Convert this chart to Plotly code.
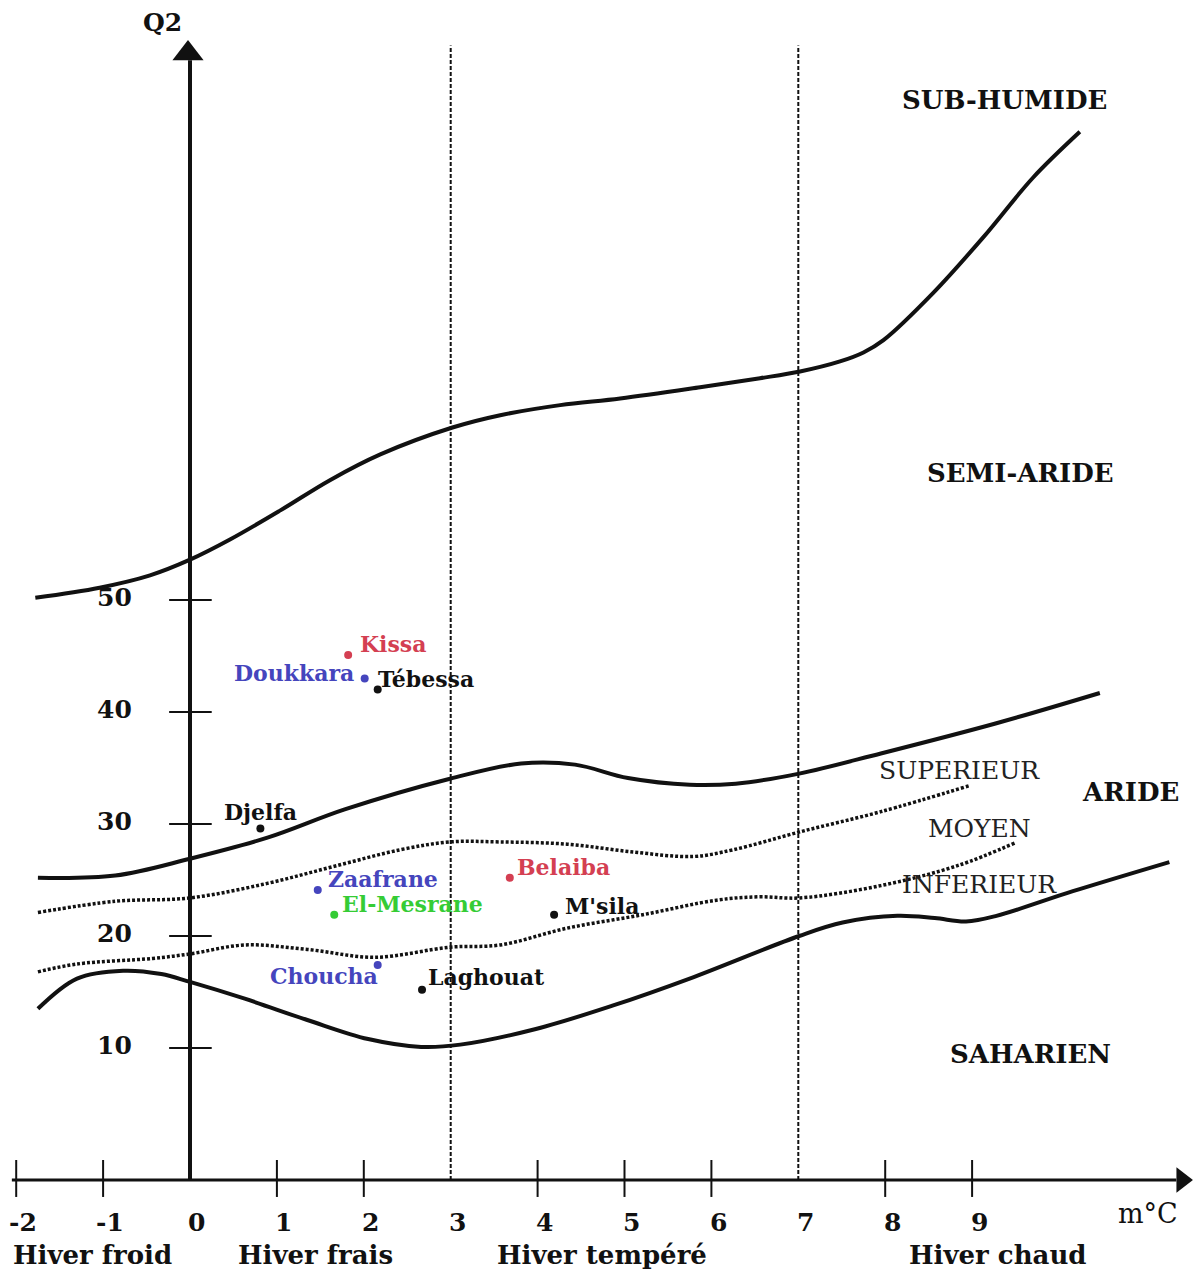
import plotly.graph_objects as go

# ---- Emberger climagram: m (°C) on x, pluviothermic quotient Q2 on y ----

# Bioclimatic boundaries (solid)
m_subhumid = [-1.78, -1.04, -0.46, 0.0, 0.46, 1.04, 1.61, 2.19, 3.02, 3.57, 4.26, 4.95,
              5.87, 6.56, 7.02, 7.48, 7.75, 7.98, 8.55, 9.13, 9.70, 10.24]
q_subhumid = [50.2, 51.1, 52.2, 53.6, 55.4, 58.0, 60.7, 63.0, 65.4, 66.5, 67.4, 68.0,
              69.0, 69.8, 70.4, 71.3, 72.1, 73.2, 77.4, 82.4, 87.7, 91.8]

m_semiarid = [-1.75, -0.86, 0.0, 0.90, 1.78, 2.97, 3.81, 4.43, 5.04, 5.75, 6.28, 7.01,
              7.95, 9.28, 10.47]
q_semiarid = [25.2, 25.4, 26.9, 28.8, 31.3, 34.0, 35.4, 35.3, 34.1, 33.5, 33.6, 34.5,
              36.3, 39.0, 41.7]

m_saharan = [-1.75, -1.30, -0.77, -0.33, 0.0, 0.63, 1.35, 2.05, 2.66, 3.11, 3.98, 4.87,
             5.75, 7.01, 7.51, 8.14, 8.57, 8.93, 9.28, 10.16, 11.27]
q_saharan = [13.5, 16.2, 16.9, 16.6, 15.9, 14.4, 12.5, 10.8, 10.1, 10.3, 11.7, 13.8,
             16.2, 20.0, 21.2, 21.8, 21.6, 21.3, 21.8, 24.0, 26.6]

# Arid sub-zones (dotted)
m_arid_sup = [-1.75, -0.86, 0.0, 0.89, 1.65, 2.42, 2.99, 3.57, 4.34, 5.10, 5.79, 6.25,
              7.02, 7.95, 8.96]
q_arid_sup = [22.1, 23.1, 23.4, 24.7, 26.2, 27.7, 28.4, 28.4, 28.2, 27.5, 27.1, 27.7,
              29.3, 31.1, 33.4]

m_arid_inf = [-1.75, -1.30, -0.43, 0.0, 0.63, 1.35, 2.13, 2.99, 3.57, 4.34, 5.21, 6.06,
              6.55, 7.02, 7.95, 8.84, 9.49]
q_arid_inf = [16.8, 17.5, 18.0, 18.4, 19.2, 18.8, 18.1, 19.0, 19.2, 20.7, 21.9, 23.2,
              23.5, 23.4, 24.5, 26.3, 28.3]

# Stations
stations = ["Kissa", "Doukkara", "Tébessa", "Djelfa", "Zaafrane", "El-Mesrane",
            "Belaiba", "M'sila", "Choucha", "Laghouat"]
station_m = [1.82, 2.01, 2.16, 0.81, 1.47, 1.66, 3.68, 4.19, 2.16, 2.67]
station_q2 = [45.1, 43.0, 42.0, 29.6, 24.1, 21.9, 25.2, 21.9, 17.4, 15.2]
station_colors = ["#d43f52", "#4545bd", "#111111", "#111111", "#4545bd", "#35cc35",
                  "#d43f52", "#111111", "#4545bd", "#111111"]

# Axis ticks and winter-type classes
x_ticks = [-2, -1, 0, 1, 2, 3, 4, 5, 6, 7, 8, 9]
y_ticks = [10, 20, 30, 40, 50]
winter_bounds = [3, 7]
winter_classes = ["Hiver froid", "Hiver frais", "Hiver tempéré", "Hiver chaud"]
winter_class_m = [-1.12, 1.44, 4.74, 9.30]

# ---- layout constants ----
X_RANGE = [-2.1864, 11.6686]
Y_RANGE = [-10.268, 103.571]
AXIS_Q = -1.79        # height of the m axis
Y_TOP = 98.2          # top of the Q2 axis line
SERIF = "DejaVu Serif"
INK = "#111111"

fig = go.Figure()

# winter class separators
for b in winter_bounds:
    fig.add_trace(go.Scatter(x=[b, b], y=[AXIS_Q, 99.5], mode="lines",
                             line=dict(color=INK, width=2, dash="4px,2px"),
                             hoverinfo="skip"))

# boundaries
for mx, qy in [(m_subhumid, q_subhumid), (m_semiarid, q_semiarid), (m_saharan, q_saharan)]:
    fig.add_trace(go.Scatter(x=mx, y=qy, mode="lines", line_shape="spline",
                             line=dict(color=INK, width=4, smoothing=1.0),
                             hoverinfo="skip"))
for mx, qy in [(m_arid_sup, q_arid_sup), (m_arid_inf, q_arid_inf)]:
    fig.add_trace(go.Scatter(x=mx, y=qy, mode="lines", line_shape="spline",
                             line=dict(color=INK, width=3.5, dash="3px,2px", smoothing=1.0),
                             hoverinfo="skip"))

# axes (drawn inside the plot, crossing at m = 0)
fig.add_trace(go.Scatter(x=[0, 0], y=[AXIS_Q, Y_TOP], mode="lines",
                         line=dict(color=INK, width=4), hoverinfo="skip"))
fig.add_trace(go.Scatter(x=[-2.05, 11.35], y=[AXIS_Q, AXIS_Q], mode="lines",
                         line=dict(color=INK, width=3), hoverinfo="skip"))
fig.add_trace(go.Scatter(x=[-0.023], y=[98.8], mode="markers",
                         marker=dict(symbol="triangle-up", size=27, color=INK),
                         hoverinfo="skip"))
fig.add_trace(go.Scatter(x=[11.415], y=[AXIS_Q], mode="markers",
                         marker=dict(symbol="triangle-right", size=22, color=INK),
                         hoverinfo="skip"))

# tick marks
tx, ty = [], []
for t in x_ticks:
    if t == 0 or t in winter_bounds:
        continue
    tx += [t, t, None]
    ty += [0.0, -3.3, None]
for t in y_ticks:
    tx += [-0.24, 0.25, None]
    ty += [t, t, None]
fig.add_trace(go.Scatter(x=tx, y=ty, mode="lines", line=dict(color=INK, width=2),
                         hoverinfo="skip"))

# stations
fig.add_trace(go.Scatter(x=station_m, y=station_q2, mode="markers",
                         marker=dict(size=8, color=station_colors), hoverinfo="text",
                         text=stations))

# station label placement: (xanchor, xshift, yshift) in pixels
label_place = [("left", 10, 11), ("right", -9, 5), ("left", -2, 11), ("center", 0, 16),
               ("left", 8, 11), ("left", 6, 11), ("left", 5, 11), ("left", 9, 9),
               ("right", 2, -11), ("left", 4, 13)]

annotations = []
for name, mx, qy, col, (xa, xs, ys) in zip(stations, station_m, station_q2,
                                           station_colors, label_place):
    annotations.append(dict(x=mx, y=qy, text=name, showarrow=False, xanchor=xa,
                            yanchor="middle", xshift=xs, yshift=ys,
                            font=dict(family=SERIF, size=22, color=col, weight="bold")))

# tick labels
for t in x_ticks:
    annotations.append(dict(x=t + 0.08, y=-5.55, text=str(t), showarrow=False,
                            font=dict(family=SERIF, size=25, color=INK, weight="bold")))
for t in y_ticks:
    annotations.append(dict(x=-0.64, y=t + 0.2, text=str(t), showarrow=False,
                            xanchor="right",
                            font=dict(family=SERIF, size=25, color=INK, weight="bold")))

# winter classes
for name, mx in zip(winter_classes, winter_class_m):
    annotations.append(dict(x=mx, y=-8.5, text=name, showarrow=False,
                            font=dict(family=SERIF, size=26, color=INK, weight="bold")))

# axis titles
annotations.append(dict(x=-0.32, y=101.6, text="Q2", showarrow=False,
                        font=dict(family=SERIF, size=25, color=INK, weight="bold")))
annotations.append(dict(x=11.02, y=-4.75, text="m°C", showarrow=False,
                        font=dict(family=SERIF, size=27, color=INK)))

# bioclimatic zones
zones = [("SUB-HUMIDE", 9.37, 94.6), ("SEMI-ARIDE", 9.56, 61.3), ("ARIDE", 10.82, 32.9),
         ("SAHARIEN", 9.67, 9.5)]
for name, mx, qy in zones:
    annotations.append(dict(x=mx, y=qy, text=name, showarrow=False,
                            font=dict(family=SERIF, size=26, color=INK, weight="bold")))
subzones = [("SUPERIEUR", 8.86, 34.8), ("MOYEN", 9.08, 29.6), ("INFERIEUR", 9.09, 24.6)]
for name, mx, qy in subzones:
    annotations.append(dict(x=mx, y=qy, text=name, showarrow=False,
                            font=dict(family=SERIF, size=25, color="#222222")))

fig.update_layout(
    width=1204, height=1275, autosize=False,
    margin=dict(l=0, r=0, t=0, b=0),
    paper_bgcolor="white", plot_bgcolor="white",
    showlegend=False,
    xaxis=dict(range=X_RANGE, visible=False, fixedrange=True),
    yaxis=dict(range=Y_RANGE, visible=False, fixedrange=True),
    annotations=annotations,
)

fig.write_html("out.html")
